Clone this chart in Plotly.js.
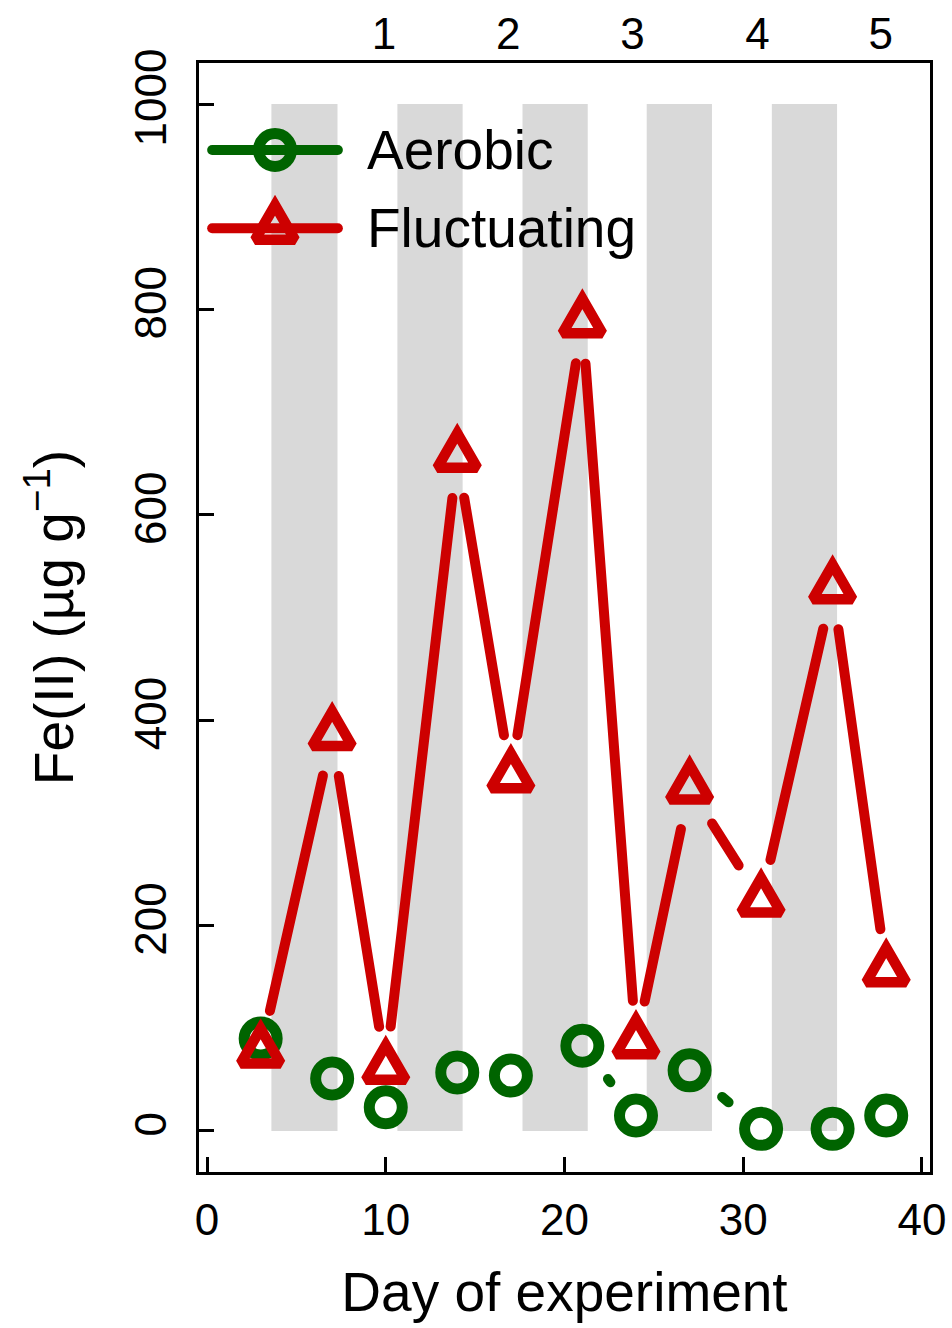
<!DOCTYPE html>
<html><head><meta charset="utf-8">
<script src="https://cdn.plot.ly/plotly-3.0.1.min.js"></script>
<style>
html,body{margin:0;padding:0;background:#fff;}
#chart{width:952px;height:1328px;}
.js-line{stroke-linecap:round !important;}
</style></head><body><div id="chart"></div>
<script>
// ---- data ----
const days = [3, 7, 10, 14, 17, 21, 24, 27, 31, 35, 38];
const aerobic = [90, 51, 23, 57, 54, 83, 15, 59, 2, 2, 15];
const fluctuating = [77, 386, 61, 657, 345, 788, 86, 334, 224, 529, 156];
const seriesNames = ['Aerobic', 'Fluctuating'];
const anoxicStart = [3.6, 10.65, 17.65, 24.6, 31.6];
const anoxicEnd = [7.3, 14.3, 21.3, 28.25, 35.25];
const cycleTickVals = [9.9, 16.85, 23.8, 30.8, 37.7];
const cycleTickText = ['1', '2', '3', '4', '5'];
const xTickVals = [0, 10, 20, 30, 40];
const yTickVals = [0, 200, 400, 600, 800, 1000];

// ---- layout constants ----
const W = 952, H = 1328;
const M = {l: 199, r: 22, t: 63, b: 156};
const xRange = [-0.45, 40.45], yRange = [-40, 1040];
const pw = W - M.l - M.r, ph = H - M.t - M.b;
const GREEN = '#006400', RED = '#CD0000', GREY = '#D9D9D9';
const FONT = '"Liberation Sans", Arial, Helvetica, sans-serif';
const GAP = 42;      // R type="b" gap in px
const TRI_SIDE = 40; // equilateral (R pch=2) triangle side in px

function toPx(x, y) {
  return [(x - xRange[0]) / (xRange[1] - xRange[0]) * pw,
          (y - yRange[0]) / (yRange[1] - yRange[0]) * ph];
}
function fromPx(px, py) {
  return [xRange[0] + px / pw * (xRange[1] - xRange[0]),
          yRange[0] + py / ph * (yRange[1] - yRange[0])];
}
function gapped(xs, ys, gap) {
  const X = [], Y = [];
  for (let i = 0; i < xs.length - 1; i++) {
    const a = toPx(xs[i], ys[i]), b = toPx(xs[i + 1], ys[i + 1]);
    const dx = b[0] - a[0], dy = b[1] - a[1];
    const len = Math.hypot(dx, dy);
    if (len > 2 * gap) {
      const ux = dx / len, uy = dy / len;
      const p1 = fromPx(a[0] + ux * gap, a[1] + uy * gap);
      const p2 = fromPx(b[0] - ux * gap, b[1] - uy * gap);
      X.push(p1[0], p2[0], null);
      Y.push(p1[1], p2[1], null);
    }
  }
  return {X, Y};
}

const gA = gapped(days, aerobic, GAP);
const gF = gapped(days, fluctuating, GAP);

const circleMarker = {symbol: 'circle-open', size: 33, color: GREEN, line: {width: 11, color: GREEN}};
const triMarker = {symbol: 'triangle-up-open', size: 38, color: RED, line: {width: 10.5, color: RED}};

const traces = [
  {x: gA.X, y: gA.Y, mode: 'lines', line: {color: GREEN, width: 10}, connectgaps: false, hoverinfo: 'skip'},
  {x: days, y: aerobic, mode: 'markers', marker: circleMarker, name: seriesNames[0]},
  {x: gF.X, y: gF.Y, mode: 'lines', line: {color: RED, width: 10}, connectgaps: false, hoverinfo: 'skip'},
  {x: days, y: fluctuating, mode: 'markers', marker: triMarker, name: seriesNames[1]},
  // top axis holder
  {x: [null], y: [null], xaxis: 'x2', yaxis: 'y', mode: 'markers', hoverinfo: 'skip'},
];

// custom legend (R style) on an invisible overlay axis in [0,1]
const legX0 = 0.018, legX1 = 0.190, legXm = 0.104;
const legY = [0.9216, 0.851];
const legMarkers = [circleMarker, triMarker];
const legColors = [GREEN, RED];
for (let i = 0; i < 2; i++) {
  traces.push({x: [legX0, legX1], y: [legY[i], legY[i]], xaxis: 'x3', yaxis: 'y3', mode: 'lines',
    line: {color: legColors[i], width: 10}, hoverinfo: 'skip'});
  traces.push({x: [legXm], y: [legY[i]], xaxis: 'x3', yaxis: 'y3', mode: 'markers',
    marker: legMarkers[i], hoverinfo: 'skip'});
}

const shapes = anoxicStart.map((s, i) => ({
  type: 'rect', xref: 'x', yref: 'y', x0: s, x1: anoxicEnd[i], y0: 0, y1: 1000,
  fillcolor: GREY, line: {width: 0}, layer: 'below'
}));

const annotations = seriesNames.map((n, i) => ({
  xref: 'paper', yref: 'paper', x: 0.227, y: legY[i], xanchor: 'left', yanchor: 'middle',
  text: n, showarrow: false, font: {family: FONT, size: 55, color: '#000'}
}));

const axisCommon = {
  showgrid: false, zeroline: false, showline: true, linecolor: '#000', linewidth: 3,
  mirror: true, ticks: 'inside', ticklen: 15, tickwidth: 3, tickcolor: '#000',
  tickfont: {family: FONT, size: 44, color: '#000'}
};

const layout = {
  width: W, height: H, margin: M, autosize: false,
  paper_bgcolor: '#fff', plot_bgcolor: '#fff', showlegend: false,
  font: {family: FONT, color: '#000'},
  xaxis: Object.assign({}, axisCommon, {
    range: xRange, tickmode: 'array', tickvals: xTickVals, ticklabelstandoff: 7,
    title: {text: 'Day of experiment', font: {family: FONT, size: 55, color: '#000'}, standoff: 30}
  }),
  yaxis: Object.assign({}, axisCommon, {
    range: yRange, tickmode: 'array', tickvals: yTickVals, tickangle: -90, ticklabelstandoff: 12,
    title: {text: 'Fe(II) (µg g<sup>−1</sup>)', font: {family: FONT, size: 55, color: '#000'}, standoff: 36}
  }),
  xaxis2: {
    overlaying: 'x', side: 'top', range: xRange, tickmode: 'array', tickvals: cycleTickVals,
    ticktext: cycleTickText, ticks: '', showline: false, showgrid: false, zeroline: false,
    tickfont: {family: FONT, size: 44, color: '#000'}, ticklabelstandoff: 4
  },
  xaxis3: {overlaying: 'x', range: [0, 1], visible: false, fixedrange: true},
  yaxis3: {overlaying: 'y', range: [0, 1], visible: false, fixedrange: true},
  shapes: shapes,
  annotations: annotations
};

// R's pch=2 triangle is equilateral; Plotly's is squat -> reshape the path (same centroid)
function equilateralPath(s) {
  const h = s / 2, up = s / Math.sqrt(3), dn = s / (2 * Math.sqrt(3));
  return 'M' + (-h).toFixed(2) + ',' + dn.toFixed(2) + 'H' + h.toFixed(2) +
         'L0,' + (-up).toFixed(2) + 'Z';
}

Plotly.newPlot('chart', traces, layout, {staticPlot: true}).then(gd => {
  gd.querySelectorAll('path.point').forEach(p => {
    const d = p.getAttribute('d') || '';
    if (d.indexOf('H') > 0 && d.indexOf('L0,-') > 0) {
      p.setAttribute('d', equilateralPath(TRI_SIDE));
      p.style.strokeLinejoin = 'miter';
    }
  });
});
</script></body></html>
